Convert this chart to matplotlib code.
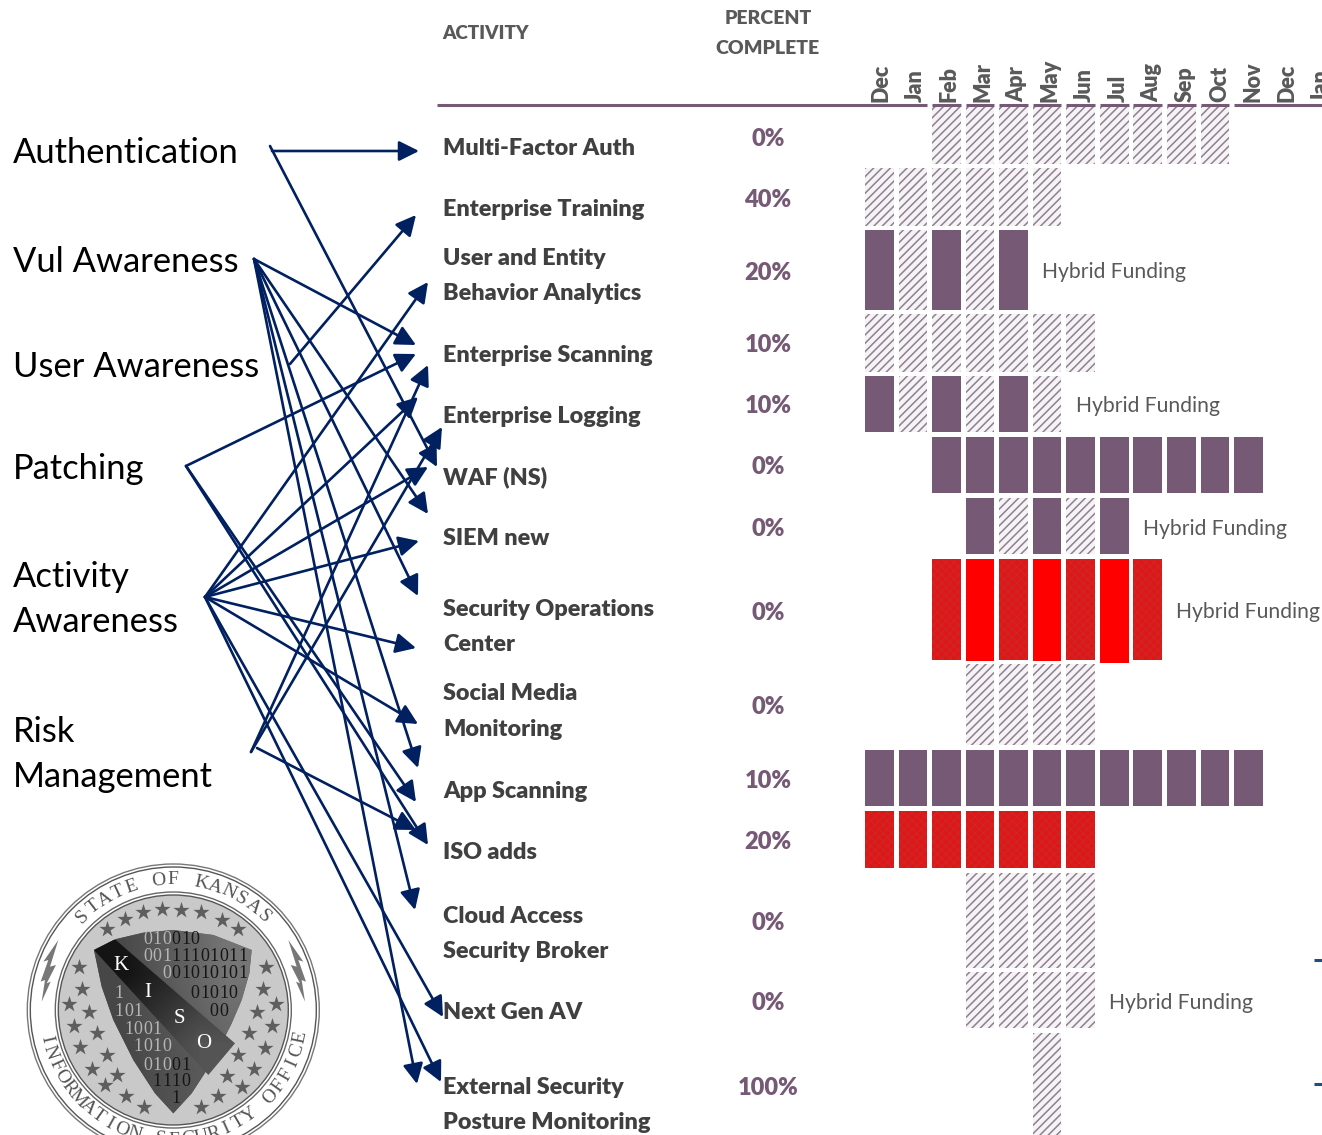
import numpy as np
import matplotlib
matplotlib.use("Agg")
import matplotlib.pyplot as plt
from matplotlib.patches import Rectangle, Circle, Polygon, FancyArrowPatch
from matplotlib.path import Path

# ---------- data ----------
MONTHS = ["Dec", "Jan", "Feb", "Mar", "Apr", "May", "Jun", "Jul", "Aug", "Sep", "Oct", "Nov", "Dec", "Jan"]
ACTIVITIES = ["Multi-Factor Auth", "Enterprise Training", "User and Entity\nBehavior Analytics",
              "Enterprise Scanning", "Enterprise Logging", "WAF (NS)", "SIEM new",
              "Security Operations\nCenter", "Social Media\nMonitoring", "App Scanning", "ISO adds",
              "Cloud Access\nSecurity Broker", "Next Gen AV", "External Security\nPosture Monitoring"]
PERCENT = [0, 40, 20, 10, 10, 0, 0, 0, 0, 10, 20, 0, 0, 100]
# one char per month: . none, H hatched, S solid, X red hatched, R red solid
CELLS = ["..HHHHHHHHH...", "HHHHHH........", "SHSHS.........", "HHHHHHH.......",
         "SHSHSH........", "..SSSSSSSSSS..", "...SHSHS......", "..XRXRXRX.....",
         "...HHHH.......", "SSSSSSSSSSSS..", "XXXXXXX.......", "...HHHH.......",
         "...HHHH.......", ".....H........"]
HYBRID = [None, None, True, None, True, None, True, True, None, None, None, None, True, None]
GROUPS = ["Authentication", "Vul Awareness", "User Awareness", "Patching", "Activity\nAwareness", "Risk\nManagement"]

# ---------- layout (pixels) ----------
W, H = 1322, 1135
ROW_SPAN = [(105, 164), (168, 226), (230, 310), (314, 372), (376, 432), (437, 493), (498, 554),
            (559, 660), (664, 745), (750, 806), (811, 868), (873, 968), (972, 1028), (1033, 1140)]
LABEL_Y = [[147], [208], [257, 292], [354], [415], [476], [537], [608, 643], [692, 728], [790], [851],
           [915, 950], [1011], [1086, 1121]]
PCT_Y = [137, 198, 271, 343, 404, 465, 527, 611, 705, 779, 840, 921, 1001, 1086]
HYB_XY = {2: (1042, 271), 4: (1076, 405), 6: (1143, 528), 7: (1176, 611), 12: (1109, 1002)}
GROUP_Y = [[151], [260], [365], [467], [575, 620], [730, 775]]
ARROWS = [((272, 151), (419, 151)), ((270, 146), (437, 467)),
          ((290, 364), (416, 215)),
          ((254, 259), (416, 345)), ((254, 259), (428, 514)), ((254, 259), (418, 596)),
          ((254, 259), (418, 768)), ((254, 259), (415, 910)), ((254, 259), (417, 1084)),
          ((186, 466), (416, 354)), ((186, 466), (416, 802)), ((186, 466), (428, 845)),
          ((205, 597), (428, 282)), ((205, 597), (418, 397)), ((205, 597), (428, 467)),
          ((205, 597), (419, 541)), ((205, 597), (416, 648)), ((205, 597), (418, 724)),
          ((205, 597), (443, 1017)), ((205, 597), (441, 1082)),
          ((251, 752), (428, 365)), ((251, 752), (442, 427)), ((257, 748), (416, 830))]

PURPLE = "#765A75"
NAVY = "#002060"
GREY = "#404040"
GREY2 = "#595959"
FONT = "Lato"
HEAVY = 800

fig = plt.figure(figsize=(W / 100, H / 100), dpi=100, facecolor="white")
ax = fig.add_axes([0, 0, 1, 1])
ax.set_xlim(0, W)
ax.set_ylim(H, 0)
ax.axis("off")
plt.rcParams["hatch.linewidth"] = 1.1


def month_x(i):
    return 865 + 33.55 * i


CELL_W = 28.7

# header
ax.text(442, 39, "ACTIVITY", family=FONT, weight=HEAVY, size=13.6, color=GREY2, va="baseline")
ax.text(768, 24, "PERCENT", family=FONT, weight=HEAVY, size=14, color=GREY2, ha="center", va="baseline")
ax.text(767, 54, "COMPLETE", family=FONT, weight=HEAVY, size=14, color=GREY2, ha="center", va="baseline")
for i, m in enumerate(MONTHS):
    ax.text(881 + 33.85 * i, 102, m, family=FONT, weight=HEAVY, size=15.5, color=GREY2,
            rotation=90, ha="center", va="bottom", clip_on=True)

# header rule, broken around the hatched first row
ax.plot([437, month_x(2) - 5], [105, 105], color=PURPLE, lw=2.2, solid_capstyle="butt", zorder=4)
ax.plot([month_x(11) - 0.5, W], [105, 105], color=PURPLE, lw=2.2, solid_capstyle="butt", zorder=4)
for i, c in enumerate(CELLS[0]):
    if c != ".":
        ax.plot([month_x(i), month_x(i) + CELL_W], [105, 105], color=PURPLE, lw=2.2,
                solid_capstyle="butt", zorder=4)

# gantt cells
for row, codes in enumerate(CELLS):
    top, bot = ROW_SPAN[row]
    for i, c in enumerate(codes):
        if c == ".":
            continue
        b = bot
        if c == "R":
            b = bot + (3 if i == 7 else 1)
        if c == "H":
            ax.add_patch(Rectangle((month_x(i), top), CELL_W, b - top, facecolor="#f6f3f6",
                                   edgecolor="#8f808f", hatch="////", lw=0, zorder=2))
        elif c == "S":
            ax.add_patch(Rectangle((month_x(i), top), CELL_W, b - top, facecolor=PURPLE, lw=0, zorder=2))
        elif c == "R":
            ax.add_patch(Rectangle((month_x(i), top), CELL_W, b - top, facecolor="#ff0000", lw=0, zorder=2))
        elif c == "X":
            ax.add_patch(Rectangle((month_x(i), top), CELL_W, b - top, facecolor="#e01616",
                                   edgecolor="#cf2424", hatch="xxxx", lw=0, zorder=2))

# activity labels, percentages, funding notes
for row, name in enumerate(ACTIVITIES):
    for line, y in zip(name.split("\n"), LABEL_Y[row]):
        ax.text(443, y + 8, line, family=FONT, weight=HEAVY, size=16.8, color=GREY, va="baseline",
                clip_on=True, zorder=6)
    ax.text(768, PCT_Y[row] + 9, f"{PERCENT[row]}%", family=FONT, weight=HEAVY, size=17,
            color=PURPLE, ha="center", va="baseline")
    if HYBRID[row]:
        x, y = HYB_XY[row]
        ax.text(x, y + 7, "Hybrid Funding", family=FONT, size=15.2, color=GREY2, va="baseline", clip_on=True)

# group labels
for name, ys in zip(GROUPS, GROUP_Y):
    for line, y in zip(name.split("\n"), ys):
        ax.text(13, y + 12, line, family=FONT, size=24.8, color="black", va="baseline")

# link arrows
for start, end in ARROWS:
    ax.add_patch(FancyArrowPatch(start, end, arrowstyle="-|>,head_length=0.68,head_width=0.34",
                                 mutation_scale=18, color=NAVY, lw=1.9, shrinkA=0, shrinkB=0, zorder=5))

# stray marks at the right edge
for y in (960, 1084):
    ax.plot([1314, W], [y, y], color="#1F4E79", lw=2.2, solid_capstyle="butt")


# ---------- seal ----------
def z(x, y):
    return (x / 3, 860 + y / 3)


cx, cy = 173.3, 1010
ax.add_patch(Circle((cx, cy), 146, facecolor="white", edgecolor="#777777", lw=1.0, zorder=1))
ax.add_patch(Circle((cx, cy), 143, facecolor="white", edgecolor="#555555", lw=1.0, zorder=1))
ax.add_patch(Circle((cx, cy), 118, facecolor="white", edgecolor="#666666", lw=1.0, zorder=1))
ax.add_patch(Circle((cx, cy), 115, facecolor="#c9c9c9", edgecolor="#555555", lw=1.0, zorder=1))


def arc_text(txt, a0, a1, r, upper):
    for ch, a in zip(txt, np.linspace(a0, a1, len(txt))):
        t = np.deg2rad(a)
        ax.text(cx + r * np.cos(t), cy - r * np.sin(t), ch, family="Liberation Serif", size=14, color="#555555",
                rotation=a - 90 if upper else a + 90, ha="center", va="center",
                rotation_mode="anchor", clip_on=True, zorder=1)


arc_text("STATE OF KANSAS", 134, 46, 130, True)
arc_text("INFORMATION SECURITY OFFICE", 193, 348, 130, False)

for s in (1, -1):
    bolt = [(175, 240), (150, 320), (168, 315), (140, 370), (152, 365), (125, 425), (135, 360),
            (122, 365), (145, 300), (130, 305)]
    pts = [z(px if s == 1 else 1040 - px, py) for px, py in bolt]
    ax.add_patch(Polygon(pts, facecolor="#777777", lw=0, zorder=1))

STARS = [(320, 207), (375, 178), (430, 155), (487, 148), (543, 150), (602, 155), (665, 180), (715, 207),
         (237, 322), (245, 388), (207, 433), (267, 455), (222, 498), (290, 520), (240, 562), (320, 585),
         (275, 627), (352, 645), (315, 675), (378, 708), (433, 740), (797, 322), (790, 388), (827, 433),
         (770, 455), (817, 498), (748, 520), (795, 565), (715, 585), (762, 627), (682, 648), (725, 680),
         (655, 708), (602, 740)]
sx, sy = zip(*[z(*p) for p in STARS])
ax.scatter(sx, sy, marker="*", s=150, color="#5e5e5e", lw=0, zorder=1.5)

SHIELD = [(282, 270), (345, 238), (430, 218), (520, 210), (640, 225), (755, 270), (748, 340), (725, 420),
          (695, 490), (640, 600), (575, 700), (520, 760), (465, 700), (400, 600), (340, 480), (305, 380)]
shield_pts = [z(*p) for p in SHIELD]
shield = Polygon(shield_pts, facecolor="#5a5a5a", lw=0, zorder=1.6)
ax.add_patch(shield)
grad = ax.imshow([[0.28, 0.36, 0.46], [0.27, 0.32, 0.38]], cmap="gray", vmin=0, vmax=1,
                 extent=(90, 255, 1115, 925), aspect="auto", interpolation="bilinear", zorder=1.7)
grad.set_clip_path(shield)

band_pts = [z(282, 270), z(345, 238), z(705, 550), z(625, 645)]
in_shield = Path(shield_pts + [shield_pts[0]])
in_band = Path(band_pts + [band_pts[0]])

BINARY = [(240, "0101101001001010"), (290, "0110100111101011"), (340, "1001001001010101"),
          (400, "1011101010010101"), (455, "1010110101010010"), (510, "1101001010101010"),
          (560, "0101101011010101"), (615, "0010101001110101"), (665, "1001011110101010"),
          (715, "0110101010101010")]
for yy, bits in BINARY:
    for k, b in enumerate(bits):
        bx, by = z(300 + k * 28.5, yy)
        corners = [(bx + dx, by + dy) for dx in (-4, 4) for dy in (-6, 6)]
        if not all(in_shield.contains_point(p) for p in corners):
            continue
        if any(in_band.contains_point(p) for p in corners):
            continue
        col = "#b5b5b5" if bx < 168 and yy < 640 else "#161616"
        ax.text(bx, by, b, family="Liberation Serif", size=13, color=col, ha="center", va="center",
                zorder=1.8, clip_on=True)

clipper = Polygon(band_pts, transform=ax.transData)
bg = ax.imshow([[0.08, 0.2], [0.2, 0.33]], cmap="gray", vmin=0, vmax=1, extent=(90, 240, 1080, 940),
               aspect="auto", interpolation="bilinear", zorder=1.9)
bg.set_clip_path(clipper)
ax.set_xlim(0, W)
ax.set_ylim(H, 0)
for letter, p in zip("KISO", [(362, 315), (443, 397), (538, 475), (612, 550)]):
    ax.text(*z(*p), letter, family="Liberation Serif", size=15, color="white", ha="center", va="center", zorder=2)

fig.savefig("out.png", dpi=100, facecolor="white")
